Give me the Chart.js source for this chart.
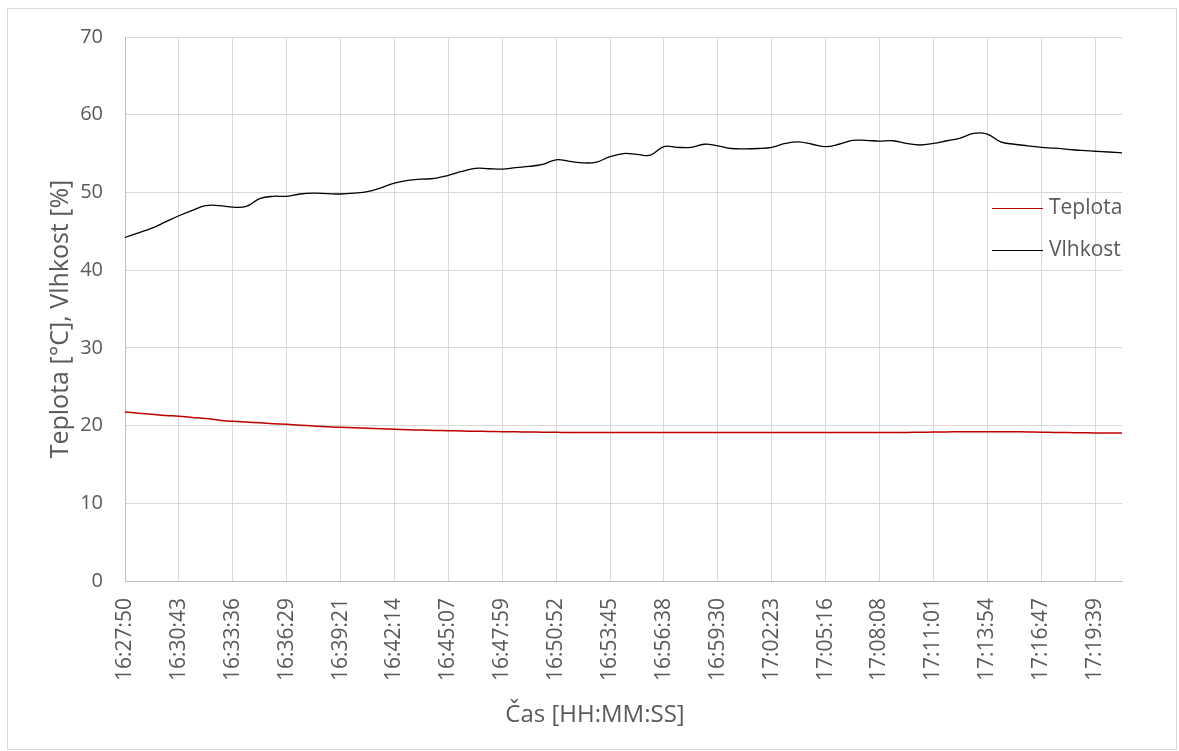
<!DOCTYPE html>
<html>
<head>
<meta charset="utf-8">
<script src="https://cdn.jsdelivr.net/npm/chart.js@4.4.0/dist/chart.umd.min.js"></script>
<style>
  html, body { margin: 0; padding: 0; background: #fff; }
</style>
</head>
<body>
<canvas id="chart" width="1179" height="751"></canvas>
<script>
// time labels shown on the x axis (one every 4 samples)
const tickLabels = ['16:27:50', '16:30:43', '16:33:36', '16:36:29', '16:39:21', '16:42:14', '16:45:07',
  '16:47:59', '16:50:52', '16:53:45', '16:56:38', '16:59:30', '17:02:23', '17:05:16', '17:08:08',
  '17:11:01', '17:13:54', '17:16:47', '17:19:39'];
const STEP = 4;

// Vlhkost [%]
const humidity = [44.2, 44.8, 45.4, 46.2, 47.0, 47.7, 48.3, 48.3, 48.1, 48.2,
  49.2, 49.5, 49.5, 49.8, 49.9, 49.85, 49.8, 49.9, 50.1, 50.6,
  51.2, 51.55, 51.7, 51.8, 52.2, 52.7, 53.1, 53.05, 53.0, 53.2,
  53.35, 53.6, 54.2, 54.0, 53.8, 53.9, 54.6, 55.0, 54.9, 54.8,
  55.9, 55.8, 55.8, 56.2, 56.0, 55.65, 55.6, 55.65, 55.8, 56.3,
  56.5, 56.2, 55.9, 56.2, 56.7, 56.7, 56.6, 56.65, 56.3, 56.1,
  56.3, 56.65, 57.0, 57.6, 57.5, 56.5, 56.2, 56.0, 55.8, 55.7,
  55.55, 55.4, 55.3, 55.2, 55.1];

// Teplota [°C]
const temperature = [21.75, 21.6, 21.45, 21.3, 21.2, 21.05, 20.9, 20.7, 20.55, 20.45,
  20.35, 20.25, 20.16, 20.05, 19.95, 19.85, 19.78, 19.72, 19.65, 19.58,
  19.52, 19.47, 19.42, 19.38, 19.34, 19.3, 19.27, 19.24, 19.21, 19.19,
  19.17, 19.15, 19.13, 19.12, 19.12, 19.11, 19.11, 19.1, 19.1, 19.1,
  19.1, 19.1, 19.1, 19.1, 19.1, 19.1, 19.1, 19.1, 19.1, 19.1,
  19.1, 19.1, 19.1, 19.1, 19.1, 19.1, 19.1, 19.1, 19.12, 19.14,
  19.16, 19.18, 19.2, 19.2, 19.2, 19.2, 19.2, 19.18, 19.15, 19.12,
  19.1, 19.08, 19.06, 19.05, 19.04];

const labels = humidity.map((_, i) => i % STEP === 0 ? tickLabels[i / STEP] : '');

const FONT = 'Open Sans';
const TEXT = '#595959';
const xTitle = 'Čas [HH:MM:SS]';
const yTitle = 'Teplota [°C], Vlhkost [%]';

// white background + light frame like the Excel chart area
const frame = {
  id: 'frame',
  beforeDraw(chart) {
    const c = chart.ctx;
    c.save();
    c.fillStyle = '#fff';
    c.fillRect(0, 0, chart.width, chart.height);
    c.strokeStyle = '#d9d9d9';
    c.lineWidth = 1;
    c.strokeRect(7.5, 8.5, 1169, 741);
    c.restore();
  }
};

// axis titles, placed like in the Excel original
const axisTitles = {
  id: 'axisTitles',
  afterDraw(chart) {
    const c = chart.ctx;
    c.save();
    c.fillStyle = TEXT;
    c.textAlign = 'center';
    c.textBaseline = 'middle';
    c.font = '24px "' + FONT + '"';
    c.fillText(xTitle, 595, 715);
    c.translate(61, 319);
    c.rotate(-Math.PI / 2);
    c.font = '25px "' + FONT + '"';
    c.fillText(yTitle, 0, 0);
    c.restore();
  }
};

// legend sitting inside the plot on the right
const sideLegend = {
  id: 'sideLegend',
  afterDraw(chart) {
    const c = chart.ctx;
    c.save();
    c.font = '21px "' + FONT + '"';
    c.textBaseline = 'middle';
    chart.data.datasets.forEach((ds, i) => {
      const y = 208 + i * 42;
      c.strokeStyle = ds.borderColor;
      c.lineWidth = 1;
      c.beginPath();
      c.moveTo(992, y + 0.5);
      c.lineTo(1043, y + 0.5);
      c.stroke();
      c.fillStyle = TEXT;
      c.fillText(ds.label, 1049, y);
    });
    c.restore();
  }
};

new Chart(document.getElementById('chart'), {
  type: 'line',
  data: {
    labels: labels,
    datasets: [{
      label: 'Teplota',
      data: temperature,
      borderColor: '#c00000',
      borderWidth: 1.5,
      pointRadius: 0,
      tension: 0.4
    }, {
      label: 'Vlhkost',
      data: humidity,
      borderColor: '#000000',
      borderWidth: 1.3,
      pointRadius: 0,
      tension: 0.4
    }]
  },
  options: {
    responsive: false,
    animation: false,
    devicePixelRatio: 1,
    layout: { padding: { left: 0, top: 37, right: 57, bottom: 0 } },
    plugins: {
      legend: { display: false },
      tooltip: { enabled: false }
    },
    scales: {
      x: {
        grid: { color: '#d9d9d9', drawTicks: false },
        border: { color: '#bfbfbf' },
        ticks: {
          autoSkip: false,
          minRotation: 90,
          maxRotation: 90,
          padding: 17,
          color: TEXT,
          font: { family: FONT, size: 21 },
          callback: (v, i) => i % STEP === 0 ? tickLabels[i / STEP] : null
        },
        afterFit: s => { s.height = 170; }
      },
      y: {
        min: 0,
        max: 70,
        grid: { color: '#d9d9d9', drawTicks: false },
        border: { color: '#bfbfbf' },
        ticks: {
          stepSize: 10,
          padding: 22,
          color: TEXT,
          font: { family: FONT, size: 20 }
        },
        afterFit: s => { s.width = 125; }
      }
    }
  },
  plugins: [frame, axisTitles, sideLegend]
});
</script>
</body>
</html>
